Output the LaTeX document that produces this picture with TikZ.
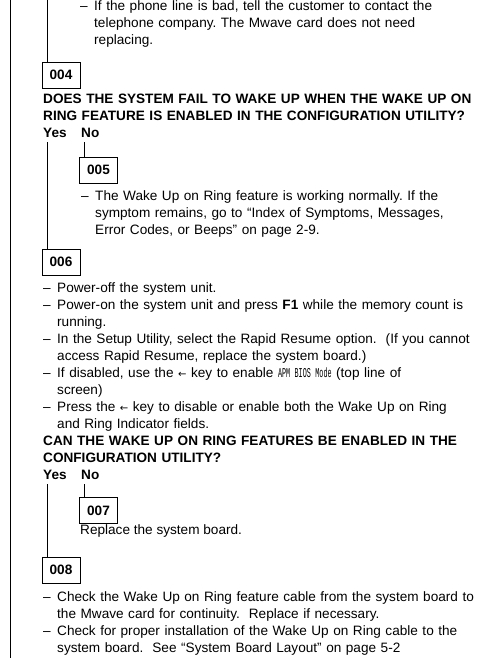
\documentclass[tikz,border=0pt]{standalone}
\usepackage{fontspec}
\setmainfont{Liberation Sans}
\newfontfamily\apmfont[FakeStretch=0.5]{Liberation Mono}
\newfontfamily\arrfont{DejaVu Sans}
\usetikzlibrary{positioning}

\newcommand{\dashitem}{\noindent\hangindent=14pt\hangafter=1\makebox[14pt][l]{–}}
\newcommand{\lkey}{{\arrfont\fontsize{10}{10}\selectfont ←}}
\newcommand{\apm}[1]{{\apmfont\fontsize{13.5}{17}\selectfont #1}}

\begin{document}
\begin{tikzpicture}[
  x=1pt, y=-1pt,
  every node/.style={inner sep=0pt, font=\fontsize{13.6}{17}\selectfont},
  txt/.style={anchor=base west, text width=440pt, execute at begin node=\raggedright\frenchspacing},
  ask/.style={txt, font=\fontsize{13.6}{17}\selectfont\bfseries},
  yesno/.style={anchor=base west, font=\fontsize{13.6}{17}\selectfont\bfseries},
  numbox/.style={draw, line width=0.8pt, minimum width=38pt, minimum height=26pt, font=\fontsize{13.6}{17}\selectfont\bfseries},
  link/.style={line width=0.8pt},
]

% Page frame
\useasboundingbox (0,0) rectangle (488,658);
\draw[link] (10,0) -- (10,658);

% Tail of step 003
\coordinate (topin) at (47,0);
\node[txt] (note003) at (80,11) {%
  \dashitem If the phone line is bad, tell the customer to contact the\newline
  telephone company. The Mwave card does not need\newline
  replacing.\par};

% Step 004
\node[numbox] (box004) at (61,75) {004};
\node[ask] (ask004) at (43,104) {%
  DOES THE SYSTEM FAIL TO WAKE UP WHEN THE WAKE UP ON\newline
  RING FEATURE IS ENABLED IN THE CONFIGURATION UTILITY?};
\node[yesno] (yes004) at (43,138) {Yes};
\node[yesno] (no004) at (81,138) {No};

% Step 005
\node[numbox] (box005) at (98.5,170) {005};
\node[txt] (note005) at (81,200) {%
  \dashitem The Wake Up on Ring feature is working normally. If the\newline
  symptom remains, go to “Index of Symptoms, Messages,\newline
  Error Codes, or Beeps” on page~2-9.\par};

% Step 006
\node[numbox] (box006) at (61,262) {006};
\node[txt] (note006) at (43,292) {%
  \dashitem Power-off the system unit.\par
  \dashitem Power-on the system unit and press \textbf{F1} while the memory count is\newline
  running.\par
  \dashitem In the Setup Utility, select the Rapid Resume option.\ \ (If you cannot\newline
  access Rapid Resume, replace the system board.)\par
  \dashitem If disabled, use the \lkey{} key to enable \apm{APM BIOS Mode} (top line of\newline
  screen)\par
  \dashitem Press the \lkey{} key to disable or enable both the Wake Up on Ring\newline
  and Ring Indicator fields.\par};
\node[ask] (ask006) at (43,445) {%
  CAN THE WAKE UP ON RING FEATURES BE ENABLED IN THE\newline
  CONFIGURATION UTILITY?};
\node[yesno] (yes006) at (43,479) {Yes};
\node[yesno] (no006) at (81,479) {No};

% Step 007
\node[numbox] (box007) at (98.5,510.5) {007};
\node[anchor=base west] (note007) at (80,534.5) {Replace the system board.};

% Step 008
\node[numbox] (box008) at (61,570) {008};
\node[txt] (note008) at (43,601) {%
  \dashitem Check the Wake Up on Ring feature cable from the system board to\newline
  the Mwave card for continuity.\ \ Replace if necessary.\par
  \dashitem Check for proper installation of the Wake Up on Ring cable to the\newline
  system board.\ \ See “System Board Layout” on page~5-2\par};

% Flow lines
\draw[link] (topin) -- (topin |- box004.north);
\draw[link] ([shift={(4pt,-4pt)}]yes004.base west) -- ([xshift=4pt]yes004.base west |- box006.north);
\draw[link] ([shift={(3pt,-4pt)}]no004.base west) -- ([xshift=3pt]no004.base west |- box005.north);
\draw[link] ([shift={(4pt,-5pt)}]yes006.base west) -- ([xshift=4pt]yes006.base west |- box008.north);
\draw[link] ([shift={(3pt,-5pt)}]no006.base west) -- ([xshift=3pt]no006.base west |- box007.north);

\end{tikzpicture}
\end{document}
